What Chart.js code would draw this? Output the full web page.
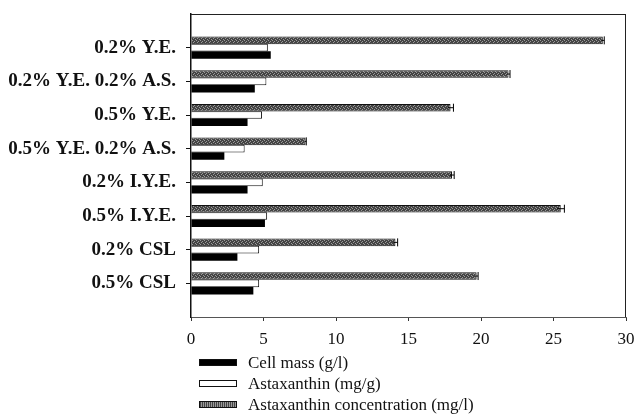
<!DOCTYPE html>
<html lang="en">
<head>
<meta charset="UTF-8">
<title>Astaxanthin production by nitrogen source</title>
<script src="https://cdn.jsdelivr.net/npm/chart.js"></script>
<style>
    body { margin: 0; padding: 0; background: #fff; }
    .wrap { position: relative; width: 638px; height: 414px; }
    #legend {
        position: absolute;
        left: 199px;
        top: 352px;
        font-family: 'Liberation Serif', 'Times New Roman', serif;
        font-size: 17px;
        color: #111;
    }
    .item { display: flex; align-items: center; height: 21px; }
    .box { width: 38px; height: 7px; margin-right: 11px; box-sizing: border-box; }
</style>
</head>
<body>
<div class="wrap">
    <canvas id="chart" width="638" height="414"></canvas>
    <div id="legend"></div>
</div>
<script>
    // media (top to bottom)
    const media = ['0.2% Y.E.', '0.2% Y.E. 0.2% A.S.', '0.5% Y.E.', '0.5% Y.E. 0.2% A.S.',
        '0.2% I.Y.E.', '0.5% I.Y.E.', '0.2% CSL', '0.5% CSL'];
    const cellMass = [5.5, 4.4, 3.9, 2.3, 3.9, 5.1, 3.2, 4.3];          // g/l
    const astaxanthin = [5.3, 5.2, 4.9, 3.7, 4.95, 5.25, 4.7, 4.7];     // mg/g
    const astaConc = [28.4, 21.9, 17.9, 7.9, 18.0, 25.5, 14.1, 19.7];   // mg/l
    const astaConcErr = [0.1, 0.1, 0.2, 0.05, 0.15, 0.25, 0.15, 0.1];
    const xTicks = [0, 5, 10, 15, 20, 25, 30];

    // blank slots above and below so the rows sit one step in from the frame
    const labels = [''].concat(media, ['']);
    const pad = arr => [null].concat(arr, [null]);

    // speckled dark grey fill
    function makePattern() {
        const c = document.createElement('canvas');
        c.width = 4; c.height = 4;
        const g = c.getContext('2d');
        g.fillStyle = '#444';
        g.fillRect(0, 0, 4, 4);
        g.fillStyle = '#9a9a9a';
        g.fillRect(0, 0, 1, 1);
        g.fillRect(2, 1, 1, 1);
        g.fillRect(1, 2, 1, 1);
        g.fillRect(3, 3, 1, 1);
        return g.createPattern(c, 'repeat');
    }
    const greyFill = makePattern();

    const frame = {
        id: 'frame',
        afterDraw(chart) {
            const a = chart.chartArea;
            const ctx = chart.ctx;
            ctx.save();
            ctx.fillStyle = '#222';
            ctx.fillRect(Math.round(a.left), Math.round(a.top), Math.round(a.right - a.left), 1);
            ctx.fillRect(Math.round(a.right) - 1, Math.round(a.top), 1, Math.round(a.bottom - a.top));

            // error bars on the concentration bars
            const meta = chart.getDatasetMeta(0);
            const xs = chart.scales.x;
            ctx.strokeStyle = '#000';
            ctx.lineWidth = 1;
            meta.data.forEach((bar, i) => {
                const v = chart.data.datasets[0].data[i];
                if (v == null) return;
                const e = astaConcErr[i - 1];
                const x1 = xs.getPixelForValue(v - e), x2 = xs.getPixelForValue(v + e);
                const y = bar.y, h = 4;
                ctx.beginPath();
                ctx.moveTo(x1, y); ctx.lineTo(x2, y);
                ctx.moveTo(x2, y - h); ctx.lineTo(x2, y + h);
                ctx.stroke();
            });
            ctx.restore();
        }
    };

    const chart = new Chart(document.getElementById('chart'), {
        type: 'bar',
        data: {
            labels: labels,
            datasets: [
                { label: 'Astaxanthin concentration (mg/l)', data: pad(astaConc),
                  backgroundColor: greyFill, borderColor: '#111', borderWidth: 1 },
                { label: 'Astaxanthin (mg/g)', data: pad(astaxanthin),
                  backgroundColor: '#fff', borderColor: '#111', borderWidth: 1 },
                { label: 'Cell mass (g/l)', data: pad(cellMass),
                  backgroundColor: '#000', borderColor: '#000', borderWidth: 0 }
            ]
        },
        options: {
            indexAxis: 'y',
            responsive: false,
            animation: false,
            categoryPercentage: 0.65,
            barPercentage: 1.05,
            layout: { padding: { top: 14, right: 12, left: 0, bottom: 0 } },
            plugins: { legend: { display: false }, tooltip: { enabled: false } },
            scales: {
                x: {
                    min: 0, max: 30,
                    afterBuildTicks: s => { s.ticks = xTicks.map(v => ({ value: v })); },
                    afterFit: s => { s.height = 97; s.paddingLeft = 0; s.paddingRight = 0; },
                    grid: { drawOnChartArea: false, tickLength: 4, color: '#333' },
                    border: { color: '#555', width: 1 },
                    ticks: {
                        color: '#111', padding: 8,
                        font: { family: "'Liberation Serif', serif", size: 17 }
                    }
                },
                y: {
                    offset: false,
                    afterFit: s => { s.width = 191; s.paddingTop = 0; s.paddingBottom = 0; },
                    grid: {
                        offset: false,
                        drawOnChartArea: false, tickLength: 5,
                        color: ctx => (ctx.index === 0 || ctx.index === labels.length - 1) ? 'rgba(0,0,0,0)' : '#111'
                    },
                    border: { color: '#111', width: 1.5 },
                    ticks: {
                        color: '#111', padding: 10, autoSkip: false,
                        font: { family: "'Liberation Serif', serif", size: 19, weight: 'bold' }
                    }
                }
            }
        },
        plugins: [frame]
    });

    // legend listed in reverse dataset order
    const legend = document.getElementById('legend');
    chart.data.datasets.slice().reverse().forEach(ds => {
        const row = document.createElement('div');
        row.className = 'item';
        const box = document.createElement('span');
        box.className = 'box';
        if (ds.backgroundColor === greyFill) {
            box.style.background = 'repeating-linear-gradient(90deg, #444 0 1px, #999 1px 2px)';
        } else {
            box.style.background = ds.backgroundColor;
        }
        box.style.border = '1px solid #111';
        row.appendChild(box);
        row.appendChild(document.createTextNode(ds.label));
        legend.appendChild(row);
    });
</script>
</body>
</html>
